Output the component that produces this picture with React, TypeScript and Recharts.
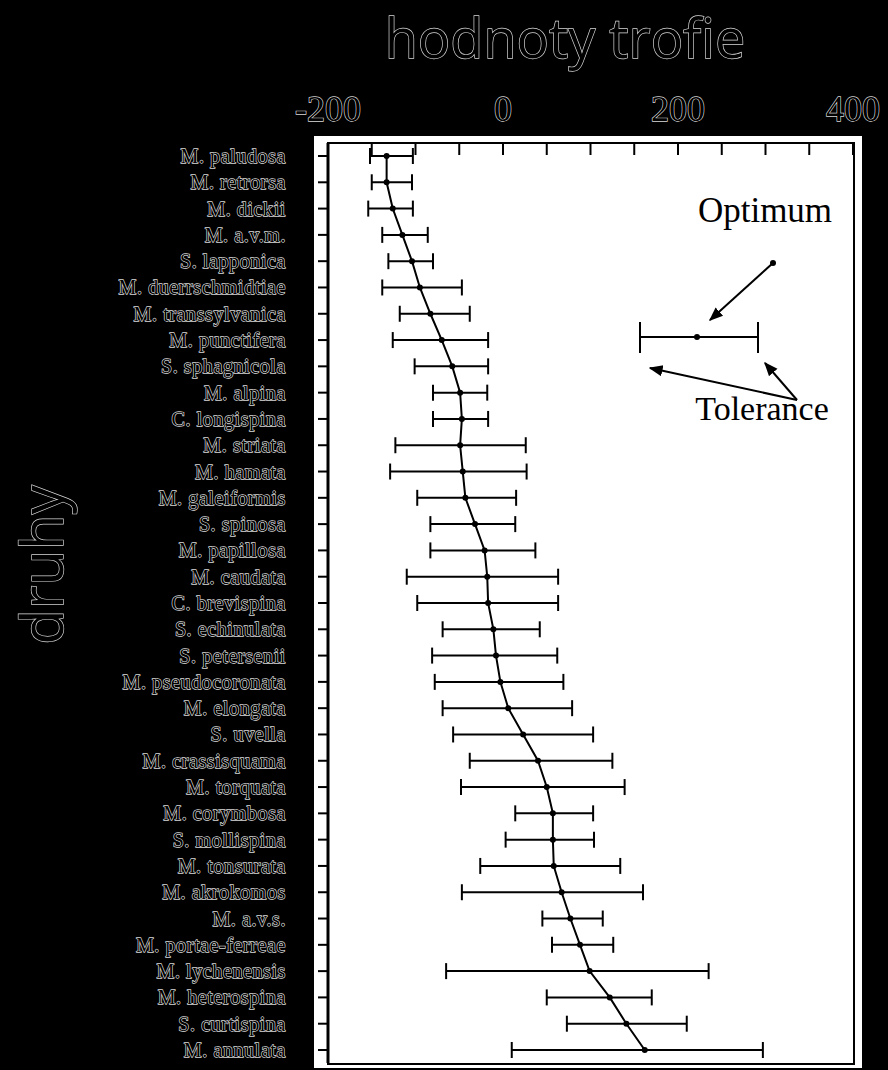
import React from 'react';
import {
  ComposedChart,
  Line,
  ErrorBar,
  XAxis,
  YAxis,
} from 'recharts';

// druhy (species), top to bottom
const species = [
  'M. paludosa', 'M. retrorsa', 'M. dickii', 'M. a.v.m.', 'S. lapponica',
  'M. duerrschmidtiae', 'M. transsylvanica', 'M. punctifera', 'S. sphagnicola',
  'M. alpina', 'C. longispina', 'M. striata', 'M. hamata', 'M. galeiformis',
  'S. spinosa', 'M. papillosa', 'M. caudata', 'C. brevispina', 'S. echinulata',
  'S. petersenii', 'M. pseudocoronata', 'M. elongata', 'S. uvella',
  'M. crassisquama', 'M. torquata', 'M. corymbosa', 'S. mollispina',
  'M. tonsurata', 'M. akrokomos', 'M. a.v.s.', 'M. portae-ferreae',
  'M. lychenensis', 'M. heterospina', 'S. curtispina', 'M. annulata',
];

// optimum of the trophic value
const optimum = [
  -133, -133, -126, -115, -104, -95, -83, -70, -58, -49, -47, -49, -46, -43,
  -32, -21, -18, -17, -11, -8, -3, 6, 23, 40, 50, 57, 57, 58, 67, 77, 88, 99,
  122, 141, 162,
];

// tolerance range, lower and upper ends
const tolLow = [
  -152, -150, -154, -138, -131, -138, -118, -126, -101, -80, -80, -123, -129,
  -98, -83, -83, -110, -98, -69, -81, -78, -69, -57, -38, -48, 14, 3, -26, -47,
  45, 56, -65, 50, 73, 10,
];
const tolHigh = [
  -103, -104, -103, -86, -80, -47, -38, -17, -17, -18, -17, 26, 27, 15, 14, 37,
  63, 63, 42, 62, 69, 79, 103, 125, 139, 103, 104, 134, 160, 114, 126, 235,
  170, 210, 297,
];

const xTicks = [-200, -150, -100, -50, 0, 50, 100, 150, 200, 250, 300, 350, 400];
const xLabels = [-200, 0, 200, 400];

const data = species.map((name, i) => ({
  name,
  opt: optimum[i],
  err: [optimum[i] - tolLow[i], tolHigh[i] - optimum[i]],
}));

const halo = { paintOrder: 'stroke' as const, stroke: '#d8d8d8', strokeWidth: 1.3 };

function TopTick(props: any) {
  const { x, y, payload } = props;
  const v = payload.value;
  return (
    <g>
      <line x1={x} y1={y} x2={x} y2={y + 12} stroke="#000" strokeWidth={2} />
      {xLabels.includes(v) && (
        <text
          x={x}
          y={y - 22}
          textAnchor="middle"
          fontFamily="'Liberation Serif', serif"
          fontSize={36}
          fill="#000"
          style={halo}
        >
          {v}
        </text>
      )}
    </g>
  );
}

function LeftTick(props: any) {
  const { x, y, payload } = props;
  return (
    <text
      x={x}
      y={y}
      textAnchor="end"
      dominantBaseline="central"
      fontFamily="'Liberation Serif', serif"
      fontSize={20}
      letterSpacing={0.6}
      fill="#000"
      style={halo}
    >
      {payload.value}
    </text>
  );
}

export default function App() {
  return (
    <div
      style={{
        position: 'absolute',
        top: 0,
        left: 0,
        width: 888,
        height: 1070,
        background: '#000',
        overflow: 'hidden',
      }}
    >
      <div
        style={{
          position: 'absolute',
          left: 314,
          top: 136,
          width: 548,
          height: 932,
          background: '#fff',
        }}
      />
      {/* plot frame */}
      <div
        style={{
          position: 'absolute',
          left: 327,
          top: 142,
          width: 524,
          height: 919,
          border: '2px solid #000',
        }}
      />
      <div style={{ position: 'absolute', top: 0, left: 0 }}>
        <ComposedChart
          width={888}
          height={1070}
          layout="vertical"
          data={data}
          margin={{ top: 0, right: 35, bottom: 7, left: 0 }}
        >
          <XAxis
            type="number"
            orientation="top"
            domain={[-200, 400]}
            ticks={xTicks}
            height={143}
            tickSize={0}
            tickMargin={0}
            tickLine={false}
            tick={<TopTick />}
            axisLine={{ stroke: '#000', strokeWidth: 2 }}
            allowDataOverflow
          />
          <YAxis
            type="category"
            dataKey="name"
            width={328}
            interval={0}
            padding={{ top: 13, bottom: 13 }}
            tickSize={10}
            tickMargin={32}
            tickLine={{ stroke: '#000', strokeWidth: 2 }}
            axisLine={{ stroke: '#000', strokeWidth: 3 }}
            tick={<LeftTick />}
          />
          <Line
            type="linear"
            dataKey="opt"
            stroke="#000"
            strokeWidth={2}
            dot={{ r: 2, fill: '#000', stroke: '#000' }}
            isAnimationActive={false}
          >
            <ErrorBar
              dataKey="err"
              direction="x"
              width={8}
              stroke="#000"
              strokeWidth={2}
            />
          </Line>
        </ComposedChart>
      </div>
      <svg
        width={888}
        height={1070}
        style={{ position: 'absolute', top: 0, left: 0, pointerEvents: 'none' }}
      >
        <defs>
          <marker
            id="head"
            viewBox="0 0 10 10"
            refX="9"
            refY="5"
            markerWidth="7"
            markerHeight="7"
            orient="auto"
          >
            <path d="M0,1 L10,5 L0,9 z" fill="#000" />
          </marker>
        </defs>
        <text
          x={565}
          y={58}
          textAnchor="middle"
          fontFamily="'Open Sans', sans-serif"
          fontSize={54}
          fill="#000"
          style={halo}
        >
          hodnoty trofie
        </text>
        <text
          x={40}
          y={565}
          textAnchor="middle"
          dominantBaseline="central"
          transform="rotate(-90 40 565)"
          fontFamily="'Open Sans', sans-serif"
          fontSize={58}
          fill="#000"
          style={halo}
        >
          druhy
        </text>
        {/* legend key */}
        <g stroke="#000" strokeWidth={2} fill="none">
          <line x1={640} y1={337} x2={758} y2={337} />
          <line x1={640} y1={322} x2={640} y2={353} />
          <line x1={758} y1={322} x2={758} y2={353} />
          <line x1={773} y1={263} x2={710} y2={320} markerEnd="url(#head)" />
          <line x1={797} y1={400} x2={650} y2={368} markerEnd="url(#head)" />
          <line x1={797} y1={400} x2={765} y2={363} markerEnd="url(#head)" />
        </g>
        <circle cx={697} cy={337} r={3} fill="#000" />
        <circle cx={773} cy={263} r={3} fill="#000" />
        <text
          x={765}
          y={222}
          textAnchor="middle"
          fontFamily="'Liberation Serif', serif"
          fontSize={35}
          fill="#000"
        >
          Optimum
        </text>
        <text
          x={762}
          y={420}
          textAnchor="middle"
          fontFamily="'Liberation Serif', serif"
          fontSize={34}
          fill="#000"
        >
          Tolerance
        </text>
      </svg>
    </div>
  );
}
